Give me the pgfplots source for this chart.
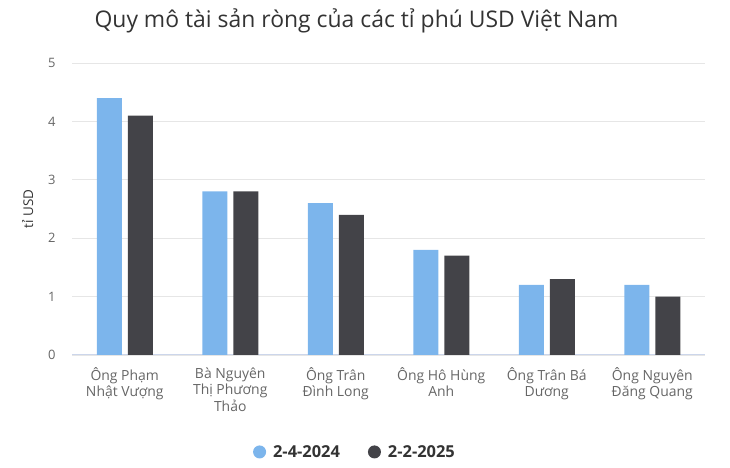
\documentclass[border=0pt]{standalone}
\usepackage{fontspec}
\setmainfont{Open Sans}
\usepackage{pgfplots}
\pgfplotsset{compat=1.18}
\definecolor{sblue}{HTML}{7CB5EC}
\definecolor{sdark}{HTML}{434348}
\definecolor{gridc}{HTML}{E6E6E6}
\definecolor{axisc}{HTML}{CCD6EB}
\definecolor{lblc}{HTML}{666666}
\definecolor{titc}{HTML}{333333}
\begin{document}
\begin{tikzpicture}[x=1bp,y=1bp]
\path[use as bounding box] (0,0) rectangle (730,468);
\node[font=\fontsize{23}{27}\selectfont, text=titc, anchor=base] at (356.5,440) {Quy mô tài sản ròng của các tỉ phú USD Việt Nam};
\begin{axis}[
  at={(72bp,113bp)}, anchor=south west,
  scale only axis, width=633bp, height=292bp,
  ymin=0, ymax=5, xmin=-0.5, xmax=5.5,
  ytick={0,1,2,3,4,5},
  xtick={0,1,2,3,4,5},
  xticklabels={{Ông Phạm\\Nhật Vượng},{Bà Nguyên\\Thị Phương\\Thảo},{Ông Trân\\Đình Long},{Ông Hô Hùng\\Anh},{Ông Trân Bá\\Dương},{Ông Nguyên\\Đăng Quang}},
  xticklabel style={align=center, font=\fontsize{14}{16.5}\selectfont, text=lblc, yshift=-9bp},
  yticklabel style={font=\fontsize{13}{15}\selectfont, text=lblc, xshift=-13bp},
  /pgf/number format/assume math mode=true,
  major tick length=0,
  axis line style={draw=none},
  ymajorgrids, grid style={draw=gridc, line width=0.8bp},
  extra y ticks={0}, extra y tick labels={},
  extra y tick style={grid style={draw=axisc, line width=1bp}},
  ylabel={tỉ USD},
  ylabel style={font=\fontsize{13.5}{15}\selectfont, text=titc, at={(axis description cs:-0.07,0.5)}, anchor=center},
  ybar, bar width=25bp,
  legend style={draw=none, at={(0.447,-0.332)}, anchor=center, font=\bfseries\fontsize{16.5}{19}\selectfont, text=titc, column sep=5bp, /tikz/every even column/.append style={column sep=26bp}},
  legend columns=2,
  legend image code/.code={\fill[#1] (0,0) circle (6.5bp);},
]
\addplot[fill=sblue, draw=none, bar shift=-15.5bp] coordinates {(0,4.4) (1,2.8) (2,2.6) (3,1.8) (4,1.2) (5,1.2)};
\addplot[fill=sdark, draw=none, bar shift=15.5bp] coordinates {(0,4.1) (1,2.8) (2,2.4) (3,1.7) (4,1.3) (5,1.0)};
\legend{2-4-2024, 2-2-2025}
\end{axis}
\end{tikzpicture}
\end{document}
